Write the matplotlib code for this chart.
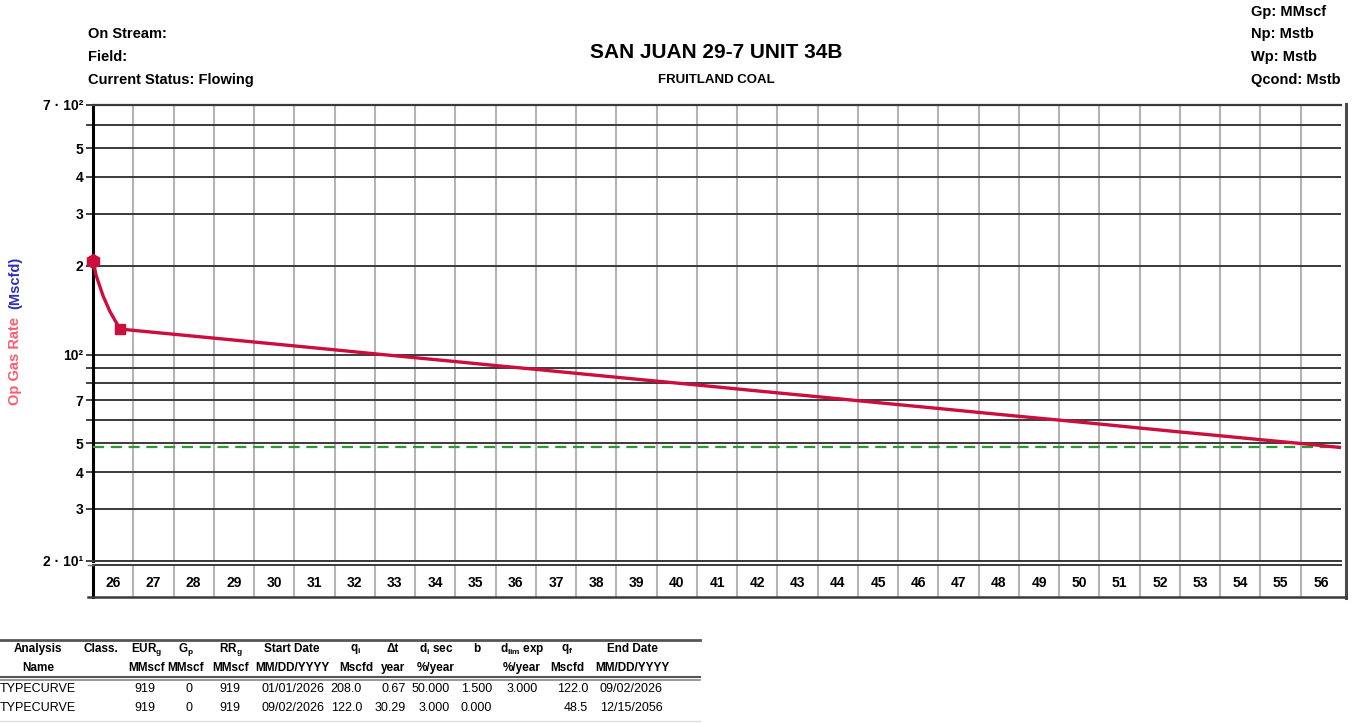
import matplotlib
matplotlib.use("Agg")
import matplotlib.pyplot as plt
from matplotlib.lines import Line2D
from matplotlib.ticker import NullLocator

plt.rcParams['font.family'] = ['Liberation Sans', 'DejaVu Sans']
plt.rcParams['font.weight'] = 'bold'
plt.rcParams['mathtext.fontset'] = 'custom'
plt.rcParams['mathtext.rm'] = 'Liberation Sans:bold'
plt.rcParams['mathtext.it'] = 'Liberation Sans:bold'
plt.rcParams['mathtext.bf'] = 'Liberation Sans:bold'

# data
# hyperbolic segment (decimal years, Mscfd)
hyp_years = [2026.0, 2026.08, 2026.25, 2026.42, 2026.67]
hyp_rates = [208.0, 185.0, 158.0, 140.0, 122.0]
# exponential segment
exp_years = [2026.67, 2027, 2028, 2029, 2030, 2031, 2032, 2033, 2034, 2035, 2036,
             2037, 2038, 2039, 2040, 2041, 2042, 2043, 2044, 2045, 2046,
             2047, 2048, 2049, 2050, 2051, 2052, 2053, 2054, 2055, 2056, 2056.96]
exp_rates = [122.0, 120.8, 117.2, 113.7, 110.3, 107.0, 103.8, 100.6, 97.6, 94.7, 91.8,
             89.1, 86.4, 83.8, 81.3, 78.9, 76.5, 74.2, 72.0, 69.8, 67.7,
             65.7, 63.7, 61.8, 60.0, 58.2, 56.4, 54.7, 53.1, 51.5, 50.0, 48.5]
econ_limit = 48.5

year_cells = list(range(2026, 2057))
year_labels = [str(y % 100) for y in year_cells]

ytick_vals = [20, 30, 40, 50, 60, 70, 80, 90, 100, 200, 300, 400, 500, 600, 700]
ytick_labels = ['2 · 10¹', '3', '4', '5', '', '7', '', '', '10²', '2', '3', '4', '5', '', '7 · 10²']

table_head1 = ['Analysis', 'Class.', 'EUR$_g$', 'G$_p$', 'RR$_g$', 'Start Date', 'q$_i$',
               'Δt', 'd$_i$ sec', 'b', 'd$_{lim}$ exp', 'q$_f$', 'End Date']
table_head2 = ['Name', '', 'MMscf', 'MMscf', 'MMscf', 'MM/DD/YYYY', 'Mscfd',
               'year', '%/year', '', '%/year', 'Mscfd', 'MM/DD/YYYY']
table_rows = [
    ['TYPECURVE', '', '919', '0', '919', '01/01/2026', '208.0', '0.67', '50.000', '1.500', '3.000', '122.0', '09/02/2026'],
    ['TYPECURVE', '', '919', '0', '919', '09/02/2026', '122.0', '30.29', '3.000', '0.000', '', '48.5', '12/15/2056'],
]

W, H = 1358, 723
def fx(px):
    return px / W
def fy(py):
    return 1 - py / H

fig = plt.figure(figsize=(W / 100, H / 100), dpi=100)

# main plot
ax = fig.add_axes([fx(93), fy(561), fx(1341) - fx(93), fy(105) - fy(561)])
ax.set_yscale('log')
ax.set_xlim(2026, 2057)
ax.set_ylim(20, 700)
ax.set_yticks(ytick_vals)
ax.set_yticklabels(ytick_labels)
ax.yaxis.set_minor_locator(NullLocator())
ax.set_xticks(year_cells[1:])
ax.set_xticklabels([])
ax.tick_params(axis='x', length=0)
ax.tick_params(axis='y', length=5, width=1.3, color='#333333', labelsize=10, pad=2)
ax.grid(axis='y', color='#3a3a3a', lw=1.4)
ax.grid(axis='x', color='#b4b4b4', lw=1.5)
ax.set_axisbelow(True)
ax.spines['right'].set_visible(False)
ax.spines['left'].set_linewidth(2.2)
ax.spines['left'].set_color('black')
ax.spines['top'].set_color('#3a3a3a')
ax.spines['top'].set_linewidth(1.6)
ax.spines['bottom'].set_color('#3a3a3a')
ax.spines['bottom'].set_linewidth(1.4)

red = '#cc0e3c'
ax.axhline(econ_limit, xmin=0, xmax=(2056.96 - 2026) / 31, color='#2e9a2e', lw=1.6,
           ls=(0, (5, 3)), zorder=3)
ax.plot(hyp_years, hyp_rates, color=red, lw=2.4, zorder=4, clip_on=False)
ax.plot(exp_years, exp_rates, color=red, lw=2.4, zorder=4, clip_on=False)
ax.plot(hyp_years[0], hyp_rates[0], marker='h', ms=10, color=red, zorder=5, clip_on=False)
ax.plot(hyp_years[-1], hyp_rates[-1], marker='s', ms=7.5, color=red, zorder=5, clip_on=False)

# year strip
axs = fig.add_axes([fx(93), fy(597), fx(1341) - fx(93), fy(565) - fy(597)])
axs.set_xlim(2026, 2057)
axs.set_ylim(0, 1)
axs.set_yticks([])
axs.set_xticks(year_cells[1:])
axs.set_xticklabels([])
axs.tick_params(axis='x', length=0)
axs.grid(axis='x', color='#b4b4b4', lw=1.5)
for s in ['right', 'bottom']:
    axs.spines[s].set_visible(False)
axs.spines['left'].set_linewidth(2.2)
axs.spines['left'].set_color('black')
axs.spines['top'].set_color('#3a3a3a')
axs.spines['top'].set_linewidth(1.4)
for yr, lab in zip(year_cells, year_labels):
    axs.text(yr + 0.5, 0.45, lab, ha='center', va='center', fontsize=10)

# frame lines
fig.add_artist(Line2D([fx(1346), fx(1346)], [fy(104), fy(598)], color='#4a4a4a', lw=2.2))
fig.add_artist(Line2D([fx(88), fx(1346)], [fy(597), fy(597)], color='#3a3a3a', lw=1.8))
fig.add_artist(Line2D([fx(88), fx(93)], [fy(565), fy(565)], color='#777777', lw=1))

# y label in two colours
fig.text(fx(15), fy(405), 'Op Gas Rate', rotation=90, ha='center', va='bottom',
         fontsize=10.5, color='#ff5a6e')
fig.text(fx(15), fy(309), '(Mscfd)', rotation=90, ha='center', va='bottom',
         fontsize=10.5, color='#2f2fb8')

# header texts
for txt, y in [('On Stream:', 34), ('Field:', 57), ('Current Status: Flowing', 80)]:
    fig.text(fx(88), fy(y), txt, ha='left', va='center', fontsize=10.5)
for txt, y in [('Gp: MMscf', 12), ('Np: Mstb', 34), ('Wp: Mstb', 57), ('Qcond: Mstb', 80)]:
    fig.text(fx(1251), fy(y), txt, ha='left', va='center', fontsize=10.5)
fig.text(fx(716), fy(53), 'SAN JUAN 29-7 UNIT 34B', ha='center', va='center', fontsize=15)
fig.text(fx(716), fy(80), 'FRUITLAND COAL', ha='center', va='center', fontsize=9.5)

# table
head_x = [38, 101, 147, 186, 231, 292, 356, 393, 436, 477, 522, 567, 632]
data_x = [0, 0, 155, 192, 240, 324, 362, 406, 450, 492, 538, 588, 663]
for hx, h1, h2 in zip(head_x, table_head1, table_head2):
    fig.text(fx(hx), fy(649), h1, ha='center', va='center', fontsize=8.5)
    fig.text(fx(hx), fy(668), h2, ha='center', va='center', fontsize=8.5)
for row, ry in zip(table_rows, [689, 708]):
    for i, (dx, val) in enumerate(zip(data_x, row)):
        fig.text(fx(dx), fy(ry), val, ha='left' if i == 0 else 'right', va='center',
                 fontsize=9, fontweight='normal')
fig.add_artist(Line2D([0, fx(700)], [fy(640), fy(640)], color='#555555', lw=2))
fig.add_artist(Line2D([0, fx(700)], [fy(677), fy(677)], color='#555555', lw=1.5))
fig.add_artist(Line2D([0, fx(700)], [fy(680), fy(680)], color='#888888', lw=1.2))
fig.add_artist(Line2D([0, fx(700)], [fy(721), fy(721)], color='#dddddd', lw=1))

fig.savefig('out.png', dpi=100)
